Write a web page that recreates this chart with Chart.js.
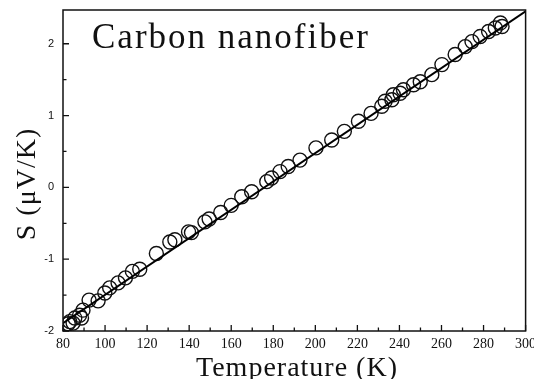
<!DOCTYPE html>
<html lang="en">
<head>
	<meta charset="UTF-8">
	<title>Carbon nanofiber</title>
	<script src="https://cdn.jsdelivr.net/npm/chart.js@4.4.0/dist/chart.umd.min.js"></script>
	<style>
		body,html{padding:0;margin:0;background:#fff;}
		#wrap{width:534px;height:379px;}
	</style>
</head>
<body>
	<div id="wrap"><canvas id="myChart" width="534" height="379"></canvas></div>
	<script>
		// measured points: temperature (K) and thermopower S (uV/K)
		var tempK = [82.5,83.2,84.8,85.6,87.9,88.8,89.5,92.4,96.7,99.9,102.2,106.2,109.7,113,116.5,
			124.4,130.8,133.2,139.7,141.1,147.5,149.5,155,160,165,169.7,176.9,179.2,183.2,187.1,
			192.7,200.3,207.8,213.8,220.5,226.5,231.6,233.2,236.4,237.1,240.3,241.9,246.7,249.9,
			255.4,260.2,266.5,271.3,274.5,278.4,282.4,285.6,288,288.8];
		var seebeck = [-1.9,-1.87,-1.89,-1.82,-1.78,-1.82,-1.71,-1.57,-1.58,-1.47,-1.40,-1.33,-1.26,-1.17,-1.14,
			-0.92,-0.76,-0.73,-0.62,-0.63,-0.48,-0.44,-0.35,-0.25,-0.13,-0.06,0.08,0.13,0.22,0.29,
			0.38,0.55,0.66,0.78,0.92,1.03,1.13,1.20,1.22,1.29,1.31,1.36,1.43,1.47,
			1.57,1.71,1.85,1.96,2.03,2.10,2.17,2.22,2.29,2.24];
		// linear fit
		var fitT = [80, 300];
		var fitS = [-1.89, 2.45];
		// axis ticks
		var xMajor = [80,100,120,140,160,180,200,220,240,260,280,300];
		var xMinor = [90,110,130,150,170,190,210,230,250,270,290];
		var yMajor = [-2,-1,0,1,2];
		var yMinor = [-1.5,-0.5,0.5,1.5];

		var pts = tempK.map(function(t,i){ return {x:t, y:seebeck[i]}; });
		var fit = fitT.map(function(t,i){ return {x:t, y:fitS[i]}; });

		var serif = '"Liberation Serif", "Times New Roman", serif';

		var framePlugin = {
			id:'frame',
			afterDraw:function(chart){
				var ctx = chart.ctx, a = chart.chartArea;
				var xs = chart.scales.x, ys = chart.scales.y;
				ctx.save();
				ctx.strokeStyle = '#111';
				ctx.lineWidth = 1.5;
				ctx.strokeRect(a.left, a.top, a.right - a.left, a.bottom - a.top);
				ctx.lineWidth = 1.3;
				ctx.beginPath();
				xMajor.forEach(function(v){ var p = xs.getPixelForValue(v); ctx.moveTo(p, a.bottom); ctx.lineTo(p, a.bottom - 6); });
				xMinor.forEach(function(v){ var p = xs.getPixelForValue(v); ctx.moveTo(p, a.bottom); ctx.lineTo(p, a.bottom - 3.5); });
				yMajor.forEach(function(v){ var p = ys.getPixelForValue(v); ctx.moveTo(a.left, p); ctx.lineTo(a.left + 6, p); });
				yMinor.forEach(function(v){ var p = ys.getPixelForValue(v); ctx.moveTo(a.left, p); ctx.lineTo(a.left + 3.5, p); });
				ctx.stroke();

				ctx.fillStyle = '#111';
				ctx.textBaseline = 'alphabetic';
				// title inside the plot
				ctx.font = '35px ' + serif;
				ctx.letterSpacing = '2px';
				ctx.textAlign = 'left';
				ctx.fillText('Carbon nanofiber', 92, 48);
				// x title
				ctx.font = '28px ' + serif;
				ctx.letterSpacing = '1px';
				ctx.textAlign = 'center';
				ctx.fillText('Temperature (K)', 297, 376);
				// y title
				ctx.translate(35, 184);
				ctx.rotate(-Math.PI/2);
				ctx.fillText('S (\u03bcV/K)', 0, 0);
				ctx.restore();
			}
		};

		var ctx = document.getElementById('myChart').getContext('2d');
		var chart = new Chart(ctx,{
			type:'scatter',
			data:{
				datasets:[{
					label:'fit',
					data:fit,
					showLine:true,
					borderColor:'#000',
					borderWidth:2,
					pointRadius:0,
					fill:false
				},{
					label:'data',
					data:pts,
					showLine:false,
					pointRadius:7,
					pointBorderColor:'#111',
					pointBackgroundColor:'rgba(0,0,0,0)',
					pointBorderWidth:1.4
				}]
			},
			plugins:[framePlugin],
			options:{
				responsive:false,
				animation:false,
				layout:{padding:{top:10,right:8,left:0,bottom:0}},
				plugins:{legend:{display:false},tooltip:{enabled:false}},
				scales:{
					x:{
						type:'linear',
						min:80,max:300,
						grid:{display:false,drawTicks:false},
						border:{display:false},
						ticks:{stepSize:20,maxRotation:0,autoSkip:false,padding:5,color:'#111',
							font:{family:serif,size:14}},
						afterFit:function(s){ s.height = 48; s.paddingLeft = 0; s.paddingRight = 0; }
					},
					y:{
						min:-2,max:2.47,
						grid:{display:false,drawTicks:false},
						border:{display:false},
						ticks:{stepSize:1,includeBounds:false,padding:9,color:'#111',
							font:{family:'"Liberation Sans", Arial, sans-serif',size:11}},
						afterFit:function(s){ s.width = 63; s.paddingTop = 0; s.paddingBottom = 0; }
					}
				}
			}
		});
	</script>
</body>
</html>
